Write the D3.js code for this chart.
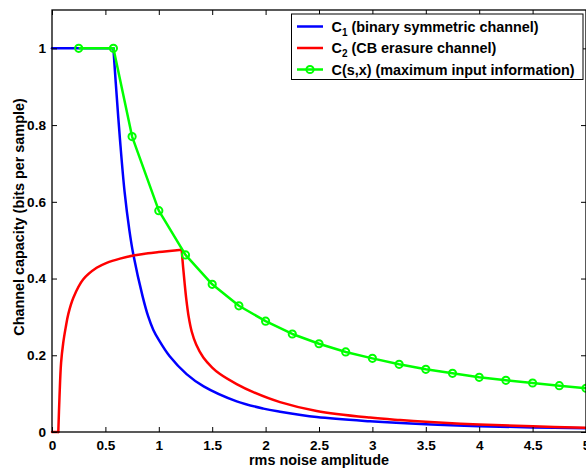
<!DOCTYPE html>
<html>
<head>
<meta charset="utf-8">
<script src="https://cdn.jsdelivr.net/npm/d3@7"></script>
<style>
  html, body { margin: 0; padding: 0; background: #fff; }
  svg { display: block; }
  text { font-family: "Liberation Sans", Arial, Helvetica, sans-serif; font-weight: bold; fill: #000; }
</style>
</head>
<body>
<svg id="chart" width="586" height="468"></svg>
<script>
// Binary symmetric channel capacity C1 vs rms noise amplitude
const c1X = [0, 0.575, 0.597, 0.637, 0.68, 0.724, 0.762, 0.849, 0.9, 0.949, 1.0, 1.1, 1.26, 1.42, 1.73, 1.98, 2.135, 2.478, 2.977, 3.5, 4.0, 4.5, 5.0];
const c1Y = [1, 1, 0.91, 0.761, 0.625, 0.527, 0.462, 0.353, 0.302, 0.266, 0.240, 0.198, 0.151, 0.119, 0.080, 0.061, 0.053, 0.039, 0.028, 0.020, 0.015, 0.012, 0.0095];
const c1Corners = [0.575];

// CB erasure channel capacity C2
const c2X = [0, 0.059, 0.07, 0.085, 0.105, 0.128, 0.153, 0.2, 0.293, 0.418, 0.512, 0.637, 0.762, 0.9, 1.0, 1.1, 1.214, 1.226, 1.24, 1.258, 1.28, 1.308, 1.35, 1.417, 1.5, 1.573, 1.729, 1.885, 2.135, 2.478, 2.977, 3.26, 3.5, 4.0, 4.5, 5.0];
const c2Y = [0, 0, 0.09, 0.18, 0.232, 0.272, 0.308, 0.350, 0.398, 0.428, 0.441, 0.452, 0.460, 0.466, 0.469, 0.472, 0.475, 0.435, 0.393, 0.345, 0.300, 0.262, 0.228, 0.194, 0.168, 0.151, 0.125, 0.104, 0.078, 0.055, 0.0375, 0.031, 0.0265, 0.0195, 0.0148, 0.0113];
const c2Corners = [0.059, 1.214];

// Maximum input information C(s,x), sampled with markers
const csxX = [0.25, 0.575, 0.75, 1.0, 1.25, 1.5, 1.75, 2.0, 2.25, 2.5, 2.75, 3.0, 3.25, 3.5, 3.75, 4.0, 4.25, 4.5, 4.75, 5.0];
const csxY = [1, 1, 0.770, 0.577, 0.4615, 0.385, 0.329, 0.289, 0.2555, 0.230, 0.2086, 0.192, 0.1765, 0.1635, 0.153, 0.1426, 0.1348, 0.1277, 0.1207, 0.114];

const xTicks = [0, 0.5, 1, 1.5, 2, 2.5, 3, 3.5, 4, 4.5, 5];
const xTickLabels = ["0", "0.5", "1", "1.5", "2", "2.5", "3", "3.5", "4", "4.5", "5"];
const yTicks = [0, 0.2, 0.4, 0.6, 0.8, 1];
const yTickLabels = ["0", "0.2", "0.4", "0.6", "0.8", "1"];

const legendLabels = [
  { main: "C", sub: "1", rest: " (binary symmetric channel)" },
  { main: "C", sub: "2", rest: " (CB erasure channel)" },
  { main: "C(s,x) (maximum input information)", sub: "", rest: "" }
];
const colors = ["#0000ff", "#ff0000", "#00ff00"];

const svg = d3.select("#chart");
const plotLeft = 52, plotRight = 586, plotTop = 10, plotBottom = 432;
const fontSize = 14.4, tickFontSize = 13.6;

const x = d3.scaleLinear().domain([0, 5]).range([plotLeft, plotRight]);
const y = d3.scaleLinear().domain([0, 1.1]).range([plotBottom, plotTop]);

const zip = (xs, ys) => xs.map((v, i) => [v, ys[i]]);
const smooth = d3.line().x(d => x(d[0])).y(d => y(d[1])).curve(d3.curveCatmullRom.alpha(0.5));
const straight = d3.line().x(d => x(d[0])).y(d => y(d[1]));

// Split a sampled curve at its corner abscissas so each smooth piece
// is interpolated separately; two-point pieces are drawn straight.
function pieces(pts, corners) {
  const out = [];
  let cur = [];
  pts.forEach(p => {
    cur.push(p);
    if (corners.includes(p[0])) { out.push(cur); cur = [p]; }
  });
  if (cur.length > 1) out.push(cur);
  return out;
}

const plot = svg.append("g");

function drawCurve(xs, ys, corners, color) {
  const g = plot.append("g");
  pieces(zip(xs, ys), corners).forEach(seg => {
    g.append("path").datum(seg)
      .attr("d", seg.length > 2 ? smooth : straight)
      .attr("fill", "none").attr("stroke", color).attr("stroke-width", 2.5)
      .attr("stroke-linejoin", "round").attr("stroke-linecap", "round");
  });
}
drawCurve(c1X, c1Y, c1Corners, colors[0]);
drawCurve(c2X, c2Y, c2Corners, colors[1]);

const csx = zip(csxX, csxY);
plot.append("path").datum(csx)
  .attr("d", straight).attr("fill", "none")
  .attr("stroke", colors[2]).attr("stroke-width", 2.5).attr("stroke-linejoin", "round");
plot.selectAll("circle.m").data(csx).enter().append("circle")
  .attr("class", "m")
  .attr("cx", d => x(d[0])).attr("cy", d => y(d[1])).attr("r", 3.6)
  .attr("fill", "none").attr("stroke", colors[2]).attr("stroke-width", 2);

// Axes box with inward ticks on all sides
const axes = svg.append("g");
const bottomAxis = d3.axisBottom(x).tickValues(xTicks).tickSize(-5).tickPadding(8)
  .tickFormat((d, i) => xTickLabels[i]);
const topAxis = d3.axisTop(x).tickValues(xTicks).tickSize(-5).tickFormat("");
const leftAxis = d3.axisLeft(y).tickValues(yTicks).tickSize(-5).tickPadding(6)
  .tickFormat((d, i) => yTickLabels[i]);
const rightAxis = d3.axisRight(y).tickValues(yTicks).tickSize(-5).tickFormat("");

function styleAxis(g) {
  g.select(".domain").remove();
  g.selectAll(".tick line").attr("stroke", "#000").attr("stroke-width", 1);
  g.selectAll(".tick text").attr("font-size", tickFontSize).attr("font-family", null).attr("fill", "#000");
}
axes.append("g").attr("transform", `translate(0,${plotBottom})`).call(bottomAxis).call(styleAxis);
axes.append("g").attr("transform", `translate(0,${plotTop})`).call(topAxis).call(styleAxis);
axes.append("g").attr("transform", `translate(${plotLeft},0)`).call(leftAxis).call(styleAxis);
axes.append("g").attr("transform", `translate(${plotRight},0)`).call(rightAxis).call(styleAxis);

axes.append("rect")
  .attr("x", plotLeft).attr("y", plotTop).attr("width", plotRight - plotLeft).attr("height", plotBottom - plotTop)
  .attr("fill", "none").attr("stroke", "#000").attr("stroke-width", 1.3);

// Axis titles
svg.append("text")
  .attr("x", (plotLeft + plotRight) / 2).attr("y", 465)
  .attr("text-anchor", "middle").attr("font-size", fontSize)
  .text("rms noise amplitude");
svg.append("text")
  .attr("transform", `translate(24,${(plotTop + plotBottom) / 2 - 4}) rotate(-90)`)
  .attr("text-anchor", "middle").attr("font-size", fontSize)
  .text("Channel capacity (bits per sample)");

// Legend
const lg = svg.append("g");
lg.append("rect").attr("x", 291.5).attr("y", 14).attr("width", 291.5).attr("height", 65.5)
  .attr("fill", "#fff").attr("stroke", "#000").attr("stroke-width", 1);
const rowY = [26.5, 48, 69.5];
legendLabels.forEach((lab, i) => {
  const ry = rowY[i];
  lg.append("line").attr("x1", 297).attr("x2", 323).attr("y1", ry).attr("y2", ry)
    .attr("stroke", colors[i]).attr("stroke-width", 2.5);
  if (i === 2) {
    lg.append("circle").attr("cx", 310).attr("cy", ry).attr("r", 3.6)
      .attr("fill", "none").attr("stroke", colors[i]).attr("stroke-width", 2);
  }
  const t = lg.append("text").attr("x", 331.5).attr("y", ry + 5.2).attr("font-size", fontSize);
  t.append("tspan").text(lab.main);
  if (lab.sub) {
    t.append("tspan").attr("dy", 4).attr("font-size", 10).text(lab.sub);
    t.append("tspan").attr("dy", -4).text(lab.rest);
  }
});
</script>
</body>
</html>
